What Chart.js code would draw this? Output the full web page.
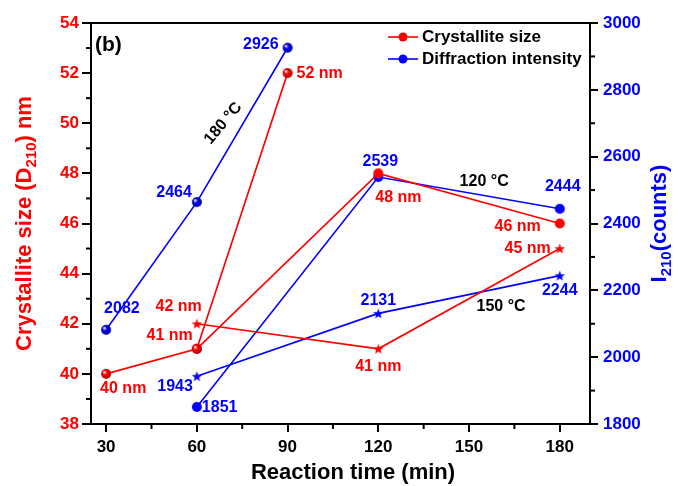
<!DOCTYPE html>
<html lang="en">
<head>
<meta charset="UTF-8">
<title>Crystallite size and diffraction intensity</title>
<script src="https://cdn.jsdelivr.net/npm/chart.js"></script>
<style>
  html, body { margin: 0; padding: 0; background: #fff; }
  #wrap { width: 678px; height: 486px; }
</style>
</head>
<body>
<div id="wrap"><canvas id="chart" width="678" height="486"></canvas></div>
<script>
// reaction time (min) for each temperature
const time180 = [30, 60, 90];
const time120 = [60, 120, 180];
const time150 = [60, 120, 180];

// crystallite size D210 (nm)
const size180 = [40, 41, 52];
const size120 = [41, 48, 46];
const size150 = [42, 41, 45];

// diffraction intensity I210 (counts)
const count180 = [2082, 2464, 2926];
const count120 = [1851, 2539, 2444];
const count150 = [1943, 2131, 2244];

// axes
const xTicks = [30, 60, 90, 120, 150, 180];
const xMinor = [45, 75, 105, 135, 165];
const sizeTicks = [38, 40, 42, 44, 46, 48, 50, 52, 54];
const sizeMinor = [39, 41, 43, 45, 47, 49, 51, 53];
const countTicks = [1800, 2000, 2200, 2400, 2600, 2800, 3000];
const countMinor = [1900, 2100, 2300, 2500, 2700, 2900];

// point label placement: [align, dx, dy] (null = no label)
const place180size = [['left', -6, 15], ['right', -4, -13], ['left', 9, 0]];
const place120size = [null, ['left', -3, 24], ['right', -19, 3]];
const place150size = [['right', 5, -17], ['center', 0, 18], ['right', -9, 0]];
const place180count = [['left', -2, -21], ['right', -5, -10], ['right', -9, -3]];
const place120count = [['left', 5, 1], ['center', 2, -15], ['center', 3, -22]];
const place150count = [['right', -4, 10], ['center', 0, -13], ['center', 0, 15]];

const FONT = '"Liberation Sans", Arial, sans-serif';
const RED = '#ff0000';
const BLUE = '#0000ff';

function sphere(color, shade, r) {
  const c = document.createElement('canvas');
  c.width = c.height = r * 2 + 2;
  const g = c.getContext('2d');
  const k = r + 1;
  const grad = g.createRadialGradient(k - r * 0.4, k - r * 0.4, 0.3, k, k, r);
  grad.addColorStop(0, '#ffffff');
  grad.addColorStop(0.4, color);
  grad.addColorStop(1, shade);
  g.fillStyle = grad;
  g.beginPath(); g.arc(k, k, r, 0, Math.PI * 2); g.fill();
  return c;
}
function dot(color, r) {
  const c = document.createElement('canvas');
  c.width = c.height = r * 2 + 2;
  const g = c.getContext('2d');
  g.fillStyle = color;
  g.beginPath(); g.arc(r + 1, r + 1, r, 0, Math.PI * 2); g.fill();
  return c;
}
function star(color, r) {
  const c = document.createElement('canvas');
  c.width = c.height = Math.ceil(r * 2 + 2);
  const g = c.getContext('2d');
  const k = c.width / 2;
  g.fillStyle = color;
  g.beginPath();
  for (let i = 0; i < 10; i++) {
    const rad = i % 2 ? r * 0.42 : r;
    const a = -Math.PI / 2 + i * Math.PI / 5;
    g.lineTo(k + rad * Math.cos(a), k + 0.5 + rad * Math.sin(a));
  }
  g.closePath(); g.fill();
  return c;
}

function pts(xs, ys) { return xs.map((x, i) => ({ x: x, y: ys[i] })); }

function series(xs, ys, axis, color, marker, labels, place) {
  return {
    data: pts(xs, ys),
    yAxisID: axis,
    borderColor: color,
    backgroundColor: color,
    borderWidth: 1.6,
    showLine: true,
    fill: false,
    pointStyle: marker,
    pointRadius: 5,
    labels: labels,
    place: place
  };
}

const datasets = [
  series(time180, size180, 'y', RED, sphere(RED, '#b00000', 5), size180.map(v => v + ' nm'), place180size),
  series(time120, size120, 'y', RED, dot(RED, 5), size120.map(v => v + ' nm'), place120size),
  series(time150, size150, 'y', RED, star(RED, 5.5), size150.map(v => v + ' nm'), place150size),
  series(time180, count180, 'y2', BLUE, sphere(BLUE, '#00008a', 5), count180.map(String), place180count),
  series(time120, count120, 'y2', BLUE, dot(BLUE, 5), count120.map(String), place120count),
  series(time150, count150, 'y2', BLUE, star(BLUE, 5.5), count150.map(String), place150count)
];

function line(ctx, x1, y1, x2, y2) {
  ctx.beginPath(); ctx.moveTo(x1, y1); ctx.lineTo(x2, y2); ctx.stroke();
}

// text with a subscript part: parts = [[text, sub?], ...]
function richText(ctx, parts, size, color) {
  let w = 0;
  parts.forEach(p => {
    ctx.font = 'bold ' + (p[1] ? size * 0.68 : size) + 'px ' + FONT;
    w += ctx.measureText(p[0]).width;
  });
  let x = -w / 2;
  ctx.fillStyle = color;
  ctx.textAlign = 'left';
  ctx.textBaseline = 'middle';
  parts.forEach(p => {
    ctx.font = 'bold ' + (p[1] ? size * 0.68 : size) + 'px ' + FONT;
    ctx.fillText(p[0], x, p[1] ? size * 0.32 : 0);
    x += ctx.measureText(p[0]).width;
  });
}

const decor = {
  id: 'decor',
  afterDraw(chart) {
    const { ctx, chartArea: a, scales } = chart;
    ctx.save();
    // frame top
    ctx.strokeStyle = '#000';
    ctx.lineWidth = 2;
    line(ctx, a.left - 1, a.top, a.right + 1, a.top);
    // minor ticks
    xMinor.forEach(v => { const p = scales.x.getPixelForValue(v); line(ctx, p, a.bottom, p, a.bottom + 5); });
    sizeMinor.forEach(v => { const p = scales.y.getPixelForValue(v); line(ctx, a.left - 5, p, a.left, p); });
    countMinor.forEach(v => { const p = scales.y2.getPixelForValue(v); line(ctx, a.right, p, a.right + 5, p); });

    // point labels
    ctx.font = 'bold 16px ' + FONT;
    ctx.textBaseline = 'middle';
    chart.data.datasets.forEach((ds, i) => {
      const meta = chart.getDatasetMeta(i);
      ds.place.forEach((pl, j) => {
        if (!pl) return;
        const el = meta.data[j];
        ctx.fillStyle = ds.borderColor;
        ctx.textAlign = pl[0];
        ctx.fillText(ds.labels[j], el.x + pl[1], el.y + pl[2]);
      });
    });

    // temperature notes
    ctx.fillStyle = '#000';
    ctx.font = 'bold 16px ' + FONT;
    ctx.textAlign = 'center';
    ctx.fillText('120 °C', scales.x.getPixelForValue(155), scales.y.getPixelForValue(47.66));
    ctx.fillText('150 °C', scales.x.getPixelForValue(160.6), scales.y.getPixelForValue(42.67));
    ctx.save();
    ctx.translate(scales.x.getPixelForValue(68.7), scales.y.getPixelForValue(50.0));
    ctx.rotate(-50 * Math.PI / 180);
    ctx.fillText('180 °C', 0, 0);
    ctx.restore();
    ctx.font = 'bold 21px ' + FONT;
    ctx.textAlign = 'left';
    ctx.fillText('(b)', a.left + 4, a.top + 22);

    // legend
    const lg = [['Crystallite size', RED], ['Diffraction intensity', BLUE]];
    lg.forEach((item, k) => {
      const y = a.top + 14 + k * 22;
      ctx.strokeStyle = item[1];
      ctx.lineWidth = 1.6;
      line(ctx, 388, y, 418, y);
      ctx.fillStyle = item[1];
      ctx.beginPath(); ctx.arc(403, y, 4.5, 0, Math.PI * 2); ctx.fill();
      ctx.fillStyle = '#000';
      ctx.font = 'bold 17px ' + FONT;
      ctx.fillText(item[0], 422, y);
    });

    // axis titles
    ctx.save();
    ctx.translate(353, 473);
    richText(ctx, [['Reaction time (min)', false]], 22, '#000');
    ctx.restore();
    ctx.save();
    ctx.translate(25, (a.top + a.bottom) / 2);
    ctx.rotate(-Math.PI / 2);
    richText(ctx, [['Crystallite size (D', false], ['210', true], [') nm', false]], 22, RED);
    ctx.restore();
    ctx.save();
    ctx.translate(660, (a.top + a.bottom) / 2);
    ctx.rotate(-Math.PI / 2);
    richText(ctx, [['I', false], ['210', true], ['(counts)', false]], 22, BLUE);
    ctx.restore();
    ctx.restore();
  }
};

function axisGrid(len) {
  return { display: true, drawOnChartArea: false, drawTicks: true, tickLength: len, color: '#000', lineWidth: 2 };
}
function fixedTicks(list) {
  return scale => { scale.ticks = list.map(v => ({ value: v })); };
}

new Chart(document.getElementById('chart'), {
  type: 'scatter',
  data: { datasets: datasets },
  plugins: [decor],
  options: {
    responsive: false,
    animation: false,
    devicePixelRatio: 1,
    layout: { padding: { top: 23, left: 0, right: 0, bottom: 0 } },
    plugins: { legend: { display: false }, tooltip: { enabled: false } },
    scales: {
      x: {
        type: 'linear', position: 'bottom', min: 25, max: 190,
        afterBuildTicks: fixedTicks(xTicks),
        afterFit: s => { s.height = 62; },
        grid: axisGrid(8),
        border: { display: true, color: '#000', width: 2 },
        ticks: { color: '#000', padding: 5, font: { family: FONT, size: 17, weight: 'bold' }, callback: v => String(v), maxRotation: 0 }
      },
      y: {
        type: 'linear', position: 'left', min: 38, max: 54,
        afterBuildTicks: fixedTicks(sizeTicks),
        afterFit: s => { s.width = 91; },
        grid: axisGrid(9),
        border: { display: true, color: '#000', width: 2 },
        ticks: { color: RED, padding: 3, font: { family: FONT, size: 17, weight: 'bold' }, callback: v => String(v) }
      },
      y2: {
        type: 'linear', position: 'right', min: 1800, max: 3000,
        afterBuildTicks: fixedTicks(countTicks),
        afterFit: s => { s.width = 88; },
        grid: axisGrid(8),
        border: { display: true, color: '#000', width: 2 },
        ticks: { color: BLUE, padding: 5, font: { family: FONT, size: 17, weight: 'bold' }, callback: v => String(v) }
      }
    }
  }
});
</script>
</body>
</html>
